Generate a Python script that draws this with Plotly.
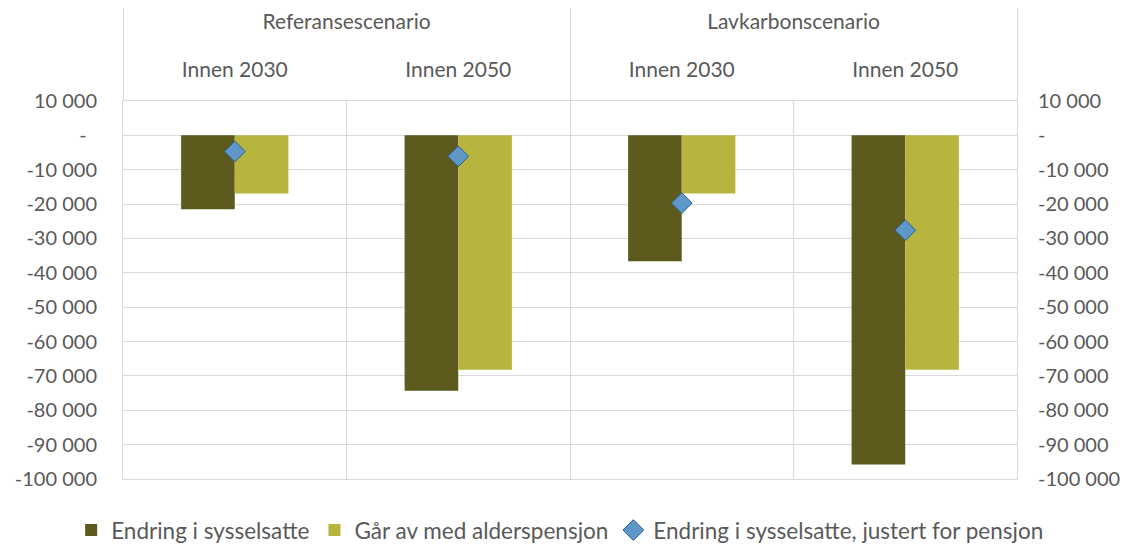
import plotly.graph_objects as go

# data
scenarios = ["Referansescenario", "Referansescenario", "Lavkarbonscenario", "Lavkarbonscenario"]
periods   = ["Innen 2030", "Innen 2050", "Innen 2030", "Innen 2050"]
endring   = [-21500, -74300, -36600, -95800]
pensjon   = [-16900, -68200, -16900, -68200]
justert   = [-4700, -6100, -19700, -27600]

tick_vals = [10000, 0, -10000, -20000, -30000, -40000, -50000, -60000, -70000, -80000, -90000, -100000]
tick_text = ["10 000", "-\u00a0\u00a0", "-10 000", "-20 000", "-30 000", "-40 000", "-50 000",
             "-60 000", "-70 000", "-80 000", "-90 000", "-100 000"]

_FONT  = dict(family="Lato, sans-serif", size=21, color="#595959")
_TICKS = dict(family="Lato, sans-serif", size=20, color="#595959")
_GRID  = "#D9D9D9"
_RANGE = [-100000, 10000]

fig = go.Figure()
fig.add_trace(go.Bar(x=[scenarios, periods], y=endring, name="Endring i sysselsatte",
                     marker=dict(color="#5C5A1D", line=dict(width=0))))
fig.add_trace(go.Bar(x=[scenarios, periods], y=pensjon, name="Går av med alderspensjon",
                     marker=dict(color="#B8B53F", line=dict(width=0))))
fig.add_trace(go.Scatter(x=[scenarios, periods], y=justert, mode="markers",
                         name="Endring i sysselsatte, justert for pensjon",
                         marker=dict(symbol="diamond", size=16, color="#5E97C8",
                                     line=dict(color="#2E5C8B", width=1))))
# invisible copy so the mirrored right-hand axis gets drawn
fig.add_trace(go.Scatter(x=[scenarios, periods], y=justert, yaxis="y2", mode="markers",
                         marker=dict(opacity=0), showlegend=False, hoverinfo="skip"))

# blank line above the inner labels pushes the scenario row further up
alias = {p: "<span style='font-size:29px'>\u00a0</span><br>" + p for p in set(periods)}

# page body has an 8px margin, so the figure is 8px smaller than the window
fig.update_layout(
    width=1120, height=538,
    font=_FONT,
    plot_bgcolor="white", paper_bgcolor="white",
    barmode="group", bargap=0.52, bargroupgap=0,
    margin=dict(l=115, r=111, t=93, b=67, autoexpand=False),
    xaxis=dict(side="top", showgrid=True, gridcolor=_GRID, gridwidth=1,
               showline=True, mirror=True, linecolor=_GRID, linewidth=1,
               ticks="", ticklabelstandoff=15,
               showdividers=True, dividercolor=_GRID, dividerwidth=1,
               labelalias=alias, tickfont=_FONT, automargin=False),
    yaxis=dict(range=_RANGE, tickvals=tick_vals, ticktext=tick_text,
               showgrid=True, gridcolor=_GRID, gridwidth=1, zeroline=False,
               showline=True, mirror=True, linecolor=_GRID, linewidth=1,
               ticklabelstandoff=21, tickfont=_TICKS, automargin=False),
    yaxis2=dict(range=_RANGE, tickvals=tick_vals, ticktext=tick_text,
                overlaying="y", side="right", anchor="x",
                showgrid=False, zeroline=False, showline=False,
                ticklabelstandoff=20, tickfont=_TICKS, automargin=False),
    legend=dict(orientation="h", xanchor="left", x=-0.058, yanchor="middle", y=-0.136,
                font=dict(family="Lato, sans-serif", size=22.5, color="#595959"),
                traceorder="normal"),
    showlegend=True,
)

fig.write_html("out.html")
